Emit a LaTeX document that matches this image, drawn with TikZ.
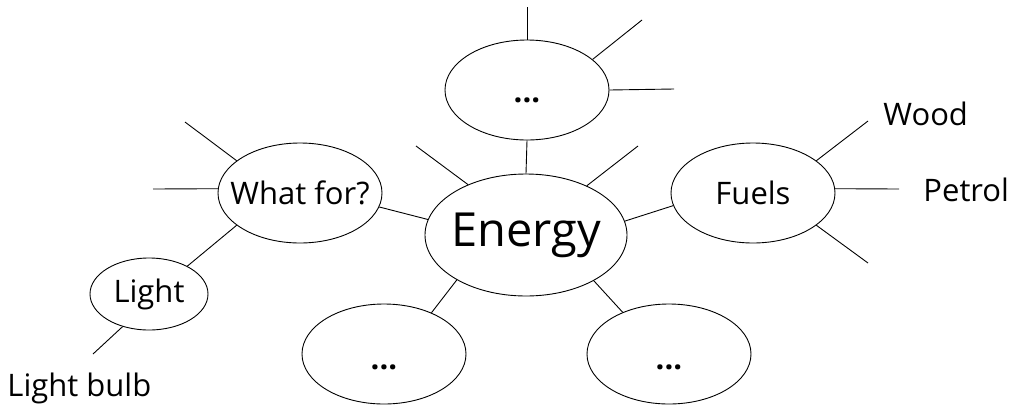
\documentclass[tikz,border=0pt]{standalone}
\usepackage{fontspec}
\setmainfont{Open Sans}
\usetikzlibrary{shapes.geometric}
\newcommand{\fixw}[1]{\makebox[0pt]{#1}}
\newcommand{\lowdots}[1]{\raisebox{#1}[0pt][0pt]{\makebox[0pt]{\textbf{...}}}}
\begin{document}
\begin{tikzpicture}[x=1pt,y=-1pt,line width=0.9pt,
  bubble/.style={draw,ellipse,inner sep=0pt,minimum width=164pt,minimum height=100pt,font=\fontsize{31}{35}\selectfont},
  lbl/.style={inner sep=0pt,font=\fontsize{31}{35}\selectfont}]
\useasboundingbox (0,0) rectangle (1023,408);
% nodes
\node[bubble,minimum width=202pt,minimum height=122pt,font=\fontsize{47}{53}\selectfont] (energy) at (526,235) {\fixw{Energy}};
\node[bubble] (top) at (527,90) {\lowdots{-12pt}};
\node[bubble] (fuels) at (753,193) {\fixw{Fuels}};
\node[bubble] (what) at (300,193) {\fixw{What for?}};
\node[bubble,minimum width=118pt,minimum height=72pt] (light) at (149,294) {\fixw{Light}};
\node[bubble] (bl) at (384,354) {\lowdots{-15pt}};
\node[bubble] (br) at (669,354) {\lowdots{-15pt}};
\node[lbl,anchor=base west] (wood) at (883,125) {Wood};
\node[lbl,anchor=base west] (petrol) at (923,201) {Petrol};
\node[lbl,anchor=base west] (bulb) at (7,396) {Light bulb};
% free ends
\coordinate (t1) at (527,7);
\coordinate (t2) at (642,20);
\coordinate (t3) at (674,89);
\coordinate (e1) at (416,146);
\coordinate (e2) at (638,146);
\coordinate (f1) at (868,121);
\coordinate (f2) at (899,189);
\coordinate (f3) at (868,263);
\coordinate (w1) at (185,122);
\coordinate (w2) at (153,189);
\coordinate (l1) at (93,354);
% connectors
\draw (energy.90) -- (top.270);
\draw (energy.8.6) -- (fuels.189);
\draw (energy.171.3) -- (what.350.7);
\draw (energy.213.7) -- (bl.41.1);
\draw (energy.326.3) -- (br.138.3);
\draw (energy.139.7) -- (e1);
\draw (energy.39.3) -- (e2);
\draw (top.90) -- (t1);
\draw (top.25.8) -- (t2);
\draw (top.0) -- (t3);
\draw (fuels.27.3) -- (f1);
\draw (fuels.3) -- (f2);
\draw (fuels.333) -- (f3);
\draw (what.153) -- (w1);
\draw (what.177) -- (w2);
\draw (what.207.3) -- (light.36.6);
\draw (light.231.8) -- (l1);
\end{tikzpicture}
\end{document}
